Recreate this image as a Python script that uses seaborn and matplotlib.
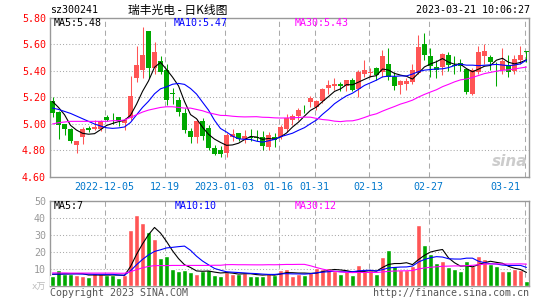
import numpy as np
import pandas as pd
import matplotlib
matplotlib.use("Agg")
import matplotlib.pyplot as plt
import matplotlib.transforms as mtrans
import seaborn as sns

# ---------------- data ----------------
opens = [5.17, 5.09, 5.00, 4.96, 4.84, 4.90, 4.97, 4.96, 4.96, 5.055,
         5.04, 5.05, 5.01, 5.045, 5.345, 5.41, 5.70, 5.42, 5.475, 5.41,
         5.235, 5.18, 5.085, 4.95, 4.90, 5.02, 4.97, 4.82, 4.80, 4.78,
         4.90, 4.93, 4.885, 4.905, 4.905, 4.90, 4.83, 4.90, 4.90, 4.96,
         5.03, 5.06, 5.115, 5.165, 5.13, 5.17, 5.27, 5.285, 5.30, 5.29,
         5.33, 5.265, 5.38, 5.385, 5.42, 5.39, 5.455, 5.355, 5.295, 5.30,
         5.32, 5.385, 5.605, 5.51, 5.43, 5.43, 5.52, 5.445, 5.46, 5.415,
         5.23, 5.395, 5.51, 5.505, 5.45, 5.41, 5.435, 5.40, 5.485, 5.55]
highs = [5.20, 5.10, 5.00, 4.97, 4.87, 4.98, 4.985, 5.03, 5.03, 5.07,
         5.085, 5.055, 5.045, 5.36, 5.59, 5.73, 5.70, 5.62, 5.51, 5.45,
         5.27, 5.20, 5.12, 4.97, 5.04, 5.045, 4.99, 4.845, 4.835, 4.935,
         4.96, 4.935, 4.955, 4.96, 4.955, 4.95, 4.94, 4.935, 4.99, 5.075,
         5.075, 5.12, 5.145, 5.21, 5.18, 5.27, 5.335, 5.345, 5.32, 5.33,
         5.35, 5.41, 5.48, 5.42, 5.43, 5.555, 5.575, 5.39, 5.33, 5.35,
         5.455, 5.67, 5.69, 5.57, 5.48, 5.535, 5.545, 5.51, 5.49, 5.425,
         5.42, 5.59, 5.60, 5.52, 5.465, 5.57, 5.52, 5.52, 5.59, 5.55]
lows = [5.05, 4.89, 4.92, 4.86, 4.78, 4.85, 4.94, 4.955, 4.95, 5.025,
        5.00, 4.985, 4.955, 5.03, 5.32, 5.35, 5.35, 5.38, 5.375, 5.14,
        5.15, 5.06, 4.93, 4.86, 4.86, 4.88, 4.80, 4.765, 4.75, 4.75,
        4.875, 4.87, 4.86, 4.87, 4.875, 4.805, 4.80, 4.83, 4.89, 4.94,
        4.995, 5.03, 5.08, 5.13, 5.105, 5.155, 5.23, 5.26, 5.25, 5.25,
        5.25, 5.205, 5.355, 5.355, 5.335, 5.355, 5.33, 5.26, 5.23, 5.255,
        5.305, 5.375, 5.48, 5.355, 5.345, 5.37, 5.40, 5.375, 5.40, 5.23,
        5.22, 5.38, 5.45, 5.41, 5.29, 5.38, 5.356, 5.38, 5.455, 5.47]
closes = [5.08, 4.99, 4.96, 4.87, 4.87, 4.96, 4.955, 4.98, 5.02, 5.03,
          5.035, 5.025, 5.03, 5.21, 5.445, 5.52, 5.42, 5.545, 5.395, 5.18,
          5.23, 5.09, 4.955, 4.90, 5.025, 4.91, 4.82, 4.775, 4.775, 4.915,
          4.925, 4.885, 4.91, 4.895, 4.895, 4.835, 4.92, 4.88, 4.98, 5.045,
          5.06, 5.105, 5.11, 5.195, 5.17, 5.265, 5.295, 5.305, 5.29, 5.33,
          5.26, 5.395, 5.41, 5.39, 5.37, 5.51, 5.355, 5.285, 5.325, 5.325,
          5.405, 5.58, 5.52, 5.435, 5.41, 5.525, 5.445, 5.44, 5.435, 5.245,
          5.405, 5.545, 5.55, 5.465, 5.445, 5.475, 5.395, 5.49, 5.52, 5.54]
volumes = [5.9, 9.5, 7.3, 7.3, 6.5, 5.9, 5.3, 7.5, 6.9, 6.5,
           6.3, 4.9, 6.5, 33.1, 42.0, 37.3, 32.0, 27.8, 16.6, 17.4,
           9.9, 8.9, 9.7, 8.5, 7.3, 8.9, 9.7, 6.5, 5.9, 8.5,
           7.3, 6.9, 7.5, 5.9, 5.9, 5.9, 7.9, 6.3, 9.3, 9.9,
           5.7, 6.9, 6.3, 8.3, 10.8, 9.9, 10.7, 8.9, 6.9, 8.7,
           6.3, 12.2, 8.9, 9.3, 6.9, 17.2, 21.1, 11.6, 9.3, 9.3,
           11.6, 35.9, 24.1, 19.0, 13.6, 14.8, 11.2, 9.9, 8.9, 14.8,
           11.6, 17.7, 15.8, 12.8, 11.6, 8.9, 8.9, 9.9, 9.3, 2.9]

# moving-average values before enough history is on the chart
ma5_lead = [5.17, 5.125, 5.07, 4.99]
ma10_lead = [5.12, 5.11, 5.095, 5.08, 5.06, 5.04, 5.02, 5.00, 4.985]
ma30_lead = [5.00, 5.01, 5.015, 5.02, 5.02, 5.02, 5.02, 5.02, 5.02, 5.02,
             5.025, 5.025, 5.03, 5.05, 5.07, 5.09, 5.105, 5.115, 5.125, 5.13,
             5.13, 5.125, 5.12, 5.12, 5.11, 5.10, 5.085, 5.075, 5.065]
vma5_lead = [6.9, 7.0, 7.1, 7.2]
vma10_lead = [7.0, 7.0, 7.1, 7.1, 7.1, 7.0, 7.0, 6.9, 6.9]
vma30_lead = [7.7, 7.7, 7.7, 7.6, 7.6, 7.6, 7.6, 7.6, 7.6, 7.6,
              7.6, 7.5, 7.5, 8.4, 9.6, 10.7, 11.5, 12.0, 12.0, 12.0,
              12.1, 12.1, 12.1, 12.1, 12.1, 12.1, 12.1, 12.2, 12.2]

holidays = ["2023-01-02", "2023-01-23", "2023-01-24", "2023-01-25",
            "2023-01-26", "2023-01-27"]
tick_dates = ["2022-12-05", "2022-12-19", "2023-01-03", "2023-01-16",
              "2023-01-31", "2023-02-13", "2023-02-27", "2023-03-21"]
tick_labels = ["2022-12-05", "12-19", "2023-01-03", "01-16", "01-31",
               "02-13", "02-27", "03-21"]
price_ticks = [4.60, 4.80, 5.00, 5.20, 5.40, 5.60, 5.80]
vol_ticks = [0, 10, 20, 30, 40, 50]
vol_tick_labels = ["x万", "10", "20", "30", "40", "50"]

title_code = "sz300241"
title_name = "瑞丰光电 - 日K线图"
timestamp = "2023-03-21 10:06:27"
ma_price_text = ["MA5:5.48", "MA10:5.47", "MA30:5.43"]
ma_vol_text = ["MA5:7", "MA10:10", "MA30:12"]

# ---------------- derived ----------------
dates = [d for d in pd.bdate_range("2022-11-22", "2023-03-21")
         if d.strftime("%Y-%m-%d") not in holidays]
date_str = [d.strftime("%Y-%m-%d") for d in dates]
n = len(closes)
idx = np.arange(n)
o = np.array(opens); c = np.array(closes)
h = np.array(highs); l = np.array(lows)
v = np.array(volumes)


def moving(series, win, lead):
    m = pd.Series(series).rolling(win).mean().to_numpy()
    m[:len(lead)] = lead
    return m


ma5 = moving(c, 5, ma5_lead)
ma10 = moving(c, 10, ma10_lead)
ma30 = moving(c, 30, ma30_lead)
vma5 = moving(v, 5, vma5_lead)
vma10 = moving(v, 10, vma10_lead)
vma30 = moving(v, 30, vma30_lead)

RED = "#ff5555"
GREEN = "#00a800"
BLUE_LINE = "#0000ff"
MAG = "#ff00ff"
GRID = "#aaaaaa"
FRAME = "#999999"

sns.set_style("white")
plt.rcParams["font.family"] = ["DejaVu Sans Mono", "Noto Sans CJK SC"]

W, H = 545, 300
fig = plt.figure(figsize=(W / 100, H / 100), dpi=100)


def rect(left, top, right, bottom):
    return [left / W, 1 - bottom / H, (right - left) / W, (bottom - top) / H]


ax = fig.add_axes(rect(50, 18, 529, 177))
axv = fig.add_axes(rect(50, 201, 529, 286))

up = c >= o
cols = np.where(up, RED, GREEN)

# candles
ax.vlines(idx, l, h, colors=cols, lw=0.75, zorder=3)
body_bot = np.minimum(o, c)
body_h = np.maximum(np.abs(c - o), 0.006)
ax.bar(idx, body_h, bottom=body_bot, width=0.72, color=cols, lw=0, zorder=4)

for m, col in [(ma5, "black"), (ma10, BLUE_LINE), (ma30, MAG)]:
    sns.lineplot(x=idx, y=m, ax=ax, color=col, lw=0.8, zorder=5)

# volume
dfv = pd.DataFrame({"i": idx, "vol": v, "dir": np.where(up, "up", "down")})
sns.barplot(data=dfv, x="i", y="vol", hue="dir",
            palette={"up": RED, "down": GREEN}, dodge=False,
            native_scale=True, width=0.75, saturation=1, legend=False,
            errorbar=None, ax=axv, zorder=3)
for m, col in [(vma5, "black"), (vma10, BLUE_LINE), (vma30, MAG)]:
    sns.lineplot(x=idx, y=m, ax=axv, color=col, lw=0.8, zorder=5)

tick_pos = np.array([date_str.index(d) for d in tick_dates]) - 0.3

for a in (ax, axv):
    a.set_xlim(-0.42, n - 0.58)
    a.set_xlabel("")
    a.set_ylabel("")
    for s in a.spines.values():
        s.set_color(FRAME)
        s.set_linewidth(1.0)
    a.set_xticks(tick_pos)
    a.grid(False)
    a.set_axisbelow(True)
    a.tick_params(length=0)
    for tp in tick_pos:
        a.axvline(tp, color=GRID, lw=0.75, ls=(0, (5, 3.5)), zorder=1)

ax.set_ylim(4.6, 5.8)
ax.set_yticks(price_ticks)
ax.set_yticklabels([f"{t:.2f}" for t in price_ticks], color="#ff0000",
                   fontsize=7.2)
for t in price_ticks[1:-1]:
    ax.axhline(t, color=GRID, lw=0.75, ls=(0, (1, 2)), zorder=1)
ax.tick_params(axis="y", pad=3)
ax.set_xticklabels(tick_labels, color="#0077cc", fontsize=7.2)
ax.tick_params(axis="x", pad=3.5)
last = ax.get_xticklabels()[-1]
last.set_horizontalalignment("right")
last.set_transform(last.get_transform() +
                   mtrans.ScaledTranslation(-4 / 100, 0, fig.dpi_scale_trans))

axv.set_ylim(0, 50)
axv.set_yticks(vol_ticks)
axv.set_yticklabels(vol_tick_labels, color="#999999", fontsize=7.2)
axv.get_yticklabels()[0].set_color("#bbbbbb")
axv.get_yticklabels()[0].set_fontsize(6.5)
for t in vol_ticks[1:-1]:
    axv.axhline(t, color=GRID, lw=0.75, ls=(0, (1, 2)), zorder=1)
axv.tick_params(axis="y", pad=3)
axv.set_xticklabels([])


def T(x, y, s, **kw):
    kw.setdefault("fontsize", 7.2)
    kw.setdefault("va", "center")
    fig.text(x / W, 1 - y / H, s, **kw)


T(50, 10, title_code, color="black")
T(178, 10, title_name, color="black", ha="center", fontsize=8.5,
  family=["Noto Sans CJK SC", "DejaVu Sans"])
T(530, 10, timestamp, color="black", ha="right")

T(54, 23.5, ma_price_text[0], color="black")
T(174, 23.5, ma_price_text[1], color=BLUE_LINE)
T(295, 23.5, ma_price_text[2], color=MAG)
T(54, 206, ma_vol_text[0], color="black")
T(175, 206, ma_vol_text[1], color=BLUE_LINE)
T(295, 206, ma_vol_text[2], color=MAG)

T(50, 293, "Copyright 2023 SINA.COM", color="#555555")
T(529, 293, "http://finance.sina.com.cn", color="#555555", ha="right")
T(527, 162, "sina", color="#cccccc", ha="right", fontsize=11,
  family="DejaVu Sans", style="italic", weight="bold")

fig.savefig("out.png", dpi=100)
